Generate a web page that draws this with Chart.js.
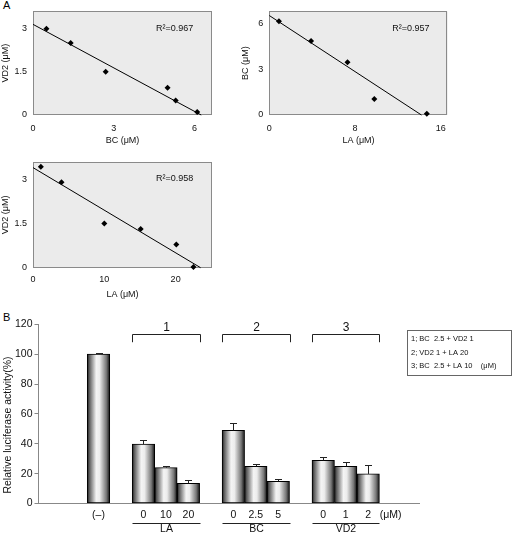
<!DOCTYPE html>
<html>
<head>
<meta charset="utf-8">
<script src="https://cdn.jsdelivr.net/npm/chart.js@4.4.1/dist/chart.umd.min.js"></script>
<style>
  body { margin: 0; background: #fff; width: 513px; height: 533px; position: relative; overflow: hidden;
         font-family: 'Liberation Sans', Arial, sans-serif; }
  .panel { position: absolute; }
  .tag { position: absolute; font-size: 11px; color: #000; }
</style>
</head>
<body>
<div class="tag" style="left:3px;top:-1px">A</div>
<div class="tag" style="left:3px;top:311px">B</div>
<div class="panel" style="left:0;top:0;width:240px;height:150px"><canvas id="a1"></canvas></div>
<div class="panel" style="left:240px;top:0;width:250px;height:150px"><canvas id="a2"></canvas></div>
<div class="panel" style="left:0;top:150px;width:240px;height:150px"><canvas id="a3"></canvas></div>
<div class="panel" style="left:0;top:300px;width:513px;height:233px"><canvas id="b"></canvas></div>

<script>
// ── panel A, top left: BC vs VD2 ──
const a1BC = [0.5, 1.4, 2.7, 5.0, 5.3, 6.1];
const a1VD2 = [3.0, 2.5, 1.5, 0.95, 0.5, 0.1];
const a1FitX = [0, 6.25];
const a1FitY = [3.15, 0];
const a1XTicks = [0, 3, 6];
const a1YTicks = [0, 1.5, 3];

// ── panel A, top right: LA vs BC ──
const a2LA = [0.9, 3.9, 7.3, 9.8, 14.7];
const a2BC = [6.13, 4.83, 3.45, 1.05, 0.08];
const a2FitX = [0, 14.2];
const a2FitY = [6.5, 0];
const a2XTicks = [0, 8, 16];
const a2YTicks = [0, 3, 6];

// ── panel A, bottom left: LA vs VD2 ──
const a3LA = [1.1, 4.0, 10.0, 15.1, 20.1, 22.5];
const a3VD2 = [3.42, 2.89, 1.5, 1.31, 0.79, 0.02];
const a3FitX = [0, 23.5];
const a3FitY = [3.39, 0];
const a3XTicks = [0, 10, 20];
const a3YTicks = [0, 1.5, 3];

// ── panel B: luciferase activity ──
const barLabels = ['(–)', '0', '10', '20', '0', '2.5', '5', '0', '1', '2'];
const barSlots = [0, 2, 3, 4, 6, 7, 8, 10, 11, 12];
const activity = [100, 39.8, 24.0, 13.5, 49.0, 24.9, 14.9, 28.9, 24.9, 19.8];
const activityErr = [1.0, 2.4, 1.3, 2.2, 4.7, 1.3, 1.3, 2.0, 3.1, 5.8];
const groupNames = ['LA', 'BC', 'VD2'];
const groupSlots = [[2, 4], [6, 8], [10, 12]];
const comboNames = ['1', '2', '3'];
const comboLines = ['1; BC  2.5 + VD2 1', '2; VD2 1 + LA 20', '3; BC  2.5 + LA 10    (\u03bcM)'];
const yTicksB = [0, 20, 40, 60, 80, 100, 120];
const unitLabel = '(\u03bcM)';
const unitSlot = 13;

const FONT = "'Liberation Sans', Arial, sans-serif";
Chart.defaults.font.family = FONT;
Chart.defaults.color = '#111';
Chart.defaults.animation = false;

// grey plot background + frame + R² note
const plotFrame = {
  id: 'plotFrame',
  beforeDatasetsDraw(chart, args, opts) {
    const { ctx, chartArea: a } = chart;
    ctx.save();
    ctx.fillStyle = '#ebebeb';
    ctx.fillRect(a.left, a.top, a.width, a.height);
    ctx.strokeStyle = '#8a8a8a';
    ctx.lineWidth = 1;
    ctx.strokeRect(Math.round(a.left) + 0.5, Math.round(a.top) + 0.5, Math.round(a.width) - 1, Math.round(a.height) - 1);
    ctx.fillStyle = '#111';
    ctx.font = '9px ' + FONT;
    ctx.textBaseline = 'middle';
    ctx.fillText(opts.note, a.left + 123, a.top + 17);
    ctx.restore();
  }
};

function scatterPanel(id, xs, ys, fitX, fitY, note, xTicks, yTicks, xMax, yMax, xTitle, yTitle, box) {
  return new Chart(document.getElementById(id), {
    type: 'scatter',
    data: {
      datasets: [
        {
          data: xs.map((x, i) => ({ x, y: ys[i] })),
          pointStyle: 'rectRot', pointRadius: 3, backgroundColor: '#000', borderWidth: 0, clip: false
        },
        {
          data: fitX.map((x, i) => ({ x, y: fitY[i] })),
          showLine: true, pointRadius: 0, borderColor: '#000', borderWidth: 1, clip: false
        }
      ]
    },
    options: {
      responsive: true,
      maintainAspectRatio: false,
      layout: { padding: { top: box.top, right: box.right, left: 0, bottom: 0 } },
      plugins: { legend: { display: false }, tooltip: { enabled: false }, plotFrame: { note } },
      scales: {
        x: {
          type: 'linear', min: 0, max: xMax,
          afterBuildTicks: s => { s.ticks = xTicks.map(v => ({ value: v })); },
          afterFit: s => { s.height = box.bottom; },
          grid: { display: false, drawTicks: false }, border: { display: false },
          ticks: { padding: box.xPad, font: { size: 9 }, maxRotation: 0, callback: v => String(v) },
          title: { display: true, text: xTitle, font: { size: 9 }, padding: { top: 0, bottom: box.xTitlePad } }
        },
        y: {
          type: 'linear', min: 0, max: yMax,
          afterBuildTicks: s => { s.ticks = yTicks.map(v => ({ value: v })); },
          afterFit: s => { s.width = box.left; },
          grid: { display: false, drawTicks: false }, border: { display: false },
          ticks: { padding: 6, font: { size: 9 }, callback: v => String(v) },
          title: { display: true, text: yTitle, font: { size: 9 }, padding: { top: 0, bottom: 0 } }
        }
      }
    },
    plugins: [plotFrame]
  });
}

scatterPanel('a1', a1BC, a1VD2, a1FitX, a1FitY, 'R\u00b2=0.967', a1XTicks, a1YTicks, 6.65, 3.6,
  'BC (\u03bcM)', 'VD2 (\u03bcM)', { left: 33, right: 28, top: 9, bottom: 35, xPad: 8, xTitlePad: 4 });
scatterPanel('a2', a2LA, a2BC, a2FitX, a2FitY, 'R\u00b2=0.957', a2XTicks, a2YTicks, 16.65, 6.77,
  'LA (\u03bcM)', 'BC (\u03bcM)', { left: 29.3, right: 42.3, top: 9, bottom: 35, xPad: 8, xTitlePad: 4 });
scatterPanel('a3', a3LA, a3VD2, a3FitX, a3FitY, 'R\u00b2=0.958', a3XTicks, a3YTicks, 25.1, 3.58,
  'LA (\u03bcM)', 'VD2 (\u03bcM)', { left: 33, right: 28, top: 12, bottom: 32.3, xPad: 6, xTitlePad: 0 });

// cylinder-like shading across each bar
function barGradient(c) {
  const chart = c.chart;
  const xs = chart.scales.x;
  if (!xs || !c.raw) return '#bbb';
  const cx = xs.getPixelForValue(c.raw.x);
  const half = (xs.getPixelForValue(1) - xs.getPixelForValue(0)) / 2;
  if (!isFinite(cx) || !isFinite(half) || half <= 0) return '#bbb';
  const g = chart.ctx.createLinearGradient(cx - half, 0, cx + half, 0);
  g.addColorStop(0, '#111');
  g.addColorStop(0.08, '#555');
  g.addColorStop(0.4, '#f4f4f4');
  g.addColorStop(0.55, '#ececec');
  g.addColorStop(0.85, '#777');
  g.addColorStop(1, '#111');
  return g;
}

// error bars, brackets, group underlines, combo legend, y title
const barExtras = {
  id: 'barExtras',
  afterDatasetsDraw(chart) {
    const { ctx, scales: { x, y }, chartArea: a } = chart;
    ctx.save();
    ctx.strokeStyle = '#222';
    ctx.lineWidth = 1;
    barSlots.forEach((s, i) => {
      const px = Math.round(x.getPixelForValue(s)) + 0.5;
      const y0 = y.getPixelForValue(activity[i]);
      const y1 = Math.round(y.getPixelForValue(activity[i] + activityErr[i])) + 0.5;
      ctx.beginPath();
      ctx.moveTo(px, y0); ctx.lineTo(px, y1);
      ctx.moveTo(px - 3.5, y1); ctx.lineTo(px + 3.5, y1);
      ctx.stroke();
    });

    ctx.fillStyle = '#111';
    ctx.textAlign = 'center';
    ctx.textBaseline = 'middle';
    groupSlots.forEach(([g0, g1], i) => {
      const l = Math.round(x.getPixelForValue(g0 - 0.5)) + 0.5;
      const r = Math.round(x.getPixelForValue(g1 + 0.5)) + 0.5;
      const top = Math.round(y.getPixelForValue(113.3)) + 0.5;
      const tip = y.getPixelForValue(108);
      ctx.beginPath();
      ctx.moveTo(l, tip); ctx.lineTo(l, top); ctx.lineTo(r, top); ctx.lineTo(r, tip);
      ctx.stroke();
      ctx.font = '12px ' + FONT;
      ctx.fillText(comboNames[i], (l + r) / 2, y.getPixelForValue(118));
      const uy = Math.round(a.bottom + 19) + 0.5;
      ctx.beginPath();
      ctx.moveTo(l, uy); ctx.lineTo(r, uy);
      ctx.stroke();
      ctx.font = '10.5px ' + FONT;
      ctx.fillText(groupNames[i], (l + r) / 2, a.bottom + 26);
    });

    // combination key
    ctx.strokeStyle = '#666';
    ctx.strokeRect(407.5, 30.5, 104, 45);
    ctx.textAlign = 'left';
    ctx.font = '7.5px ' + FONT;
    comboLines.forEach((t, i) => ctx.fillText(t, 411, 39 + i * 13.5));

    // y axis title
    ctx.translate(8, 125);
    ctx.rotate(-Math.PI / 2);
    ctx.textAlign = 'center';
    ctx.font = '10.5px ' + FONT;
    ctx.fillText('Relative luciferase activity(%)', 0, 0);
    ctx.restore();
  }
};

const tickSlots = barSlots.concat([unitSlot]);
const tickTexts = barLabels.concat([unitLabel]);

new Chart(document.getElementById('b'), {
  type: 'bar',
  data: {
    datasets: [{
      data: barSlots.map((s, i) => ({ x: s, y: activity[i] })),
      backgroundColor: barGradient,
      borderColor: '#000',
      borderWidth: 1,
      borderSkipped: false,
      barPercentage: 1,
      categoryPercentage: 1
    }]
  },
  options: {
    responsive: true,
    maintainAspectRatio: false,
    layout: { padding: { top: 24.3, right: 93.8, left: 0, bottom: 0 } },
    plugins: { legend: { display: false }, tooltip: { enabled: false } },
    scales: {
      x: {
        type: 'linear', min: -1.9, max: 13.5,
        afterBuildTicks: s => { s.ticks = tickSlots.map(v => ({ value: v })); },
        afterFit: s => { s.height = 29.5; },
        grid: { display: false, drawTicks: false },
        border: { display: true, color: '#888', width: 1 },
        ticks: { padding: 5, font: { size: 10.5 }, maxRotation: 0, autoSkip: false,
                 callback: (v, i) => tickTexts[i] }
      },
      y: {
        min: 0, max: 120,
        afterBuildTicks: s => { s.ticks = yTicksB.map(v => ({ value: v })); },
        afterFit: s => { s.width = 38.5; },
        grid: { drawOnChartArea: false, tickLength: 4, color: '#888' },
        border: { display: true, color: '#888', width: 1 },
        ticks: { padding: 2, font: { size: 10.5 } }
      }
    }
  },
  plugins: [barExtras]
});
</script>
</body>
</html>
